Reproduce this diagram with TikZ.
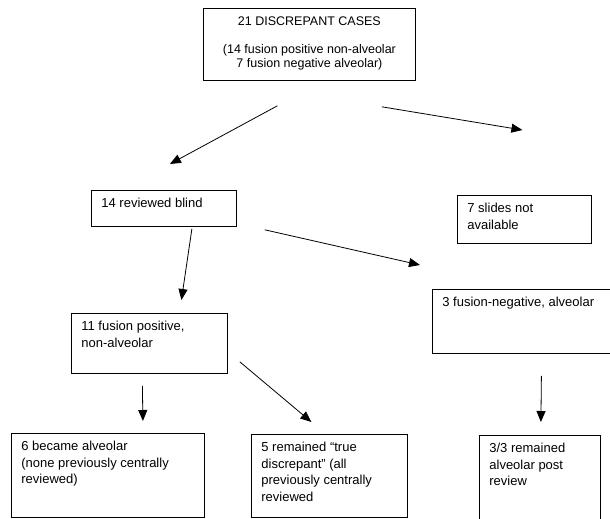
\documentclass[tikz,border=0pt]{standalone}
\usepackage{fontspec}
\setmainfont{Liberation Sans}
\usetikzlibrary{arrows.meta}

\tikzset{
  box/.style={draw, line width=0.8pt, anchor=north west, inner xsep=10pt, inner ysep=8pt,
    font=\fontsize{13}{16.5}\selectfont},
  arrow/.style={-{Triangle[length=11pt,width=9pt]}, line width=0.8pt}
}

% text set at the top of a box: width, height, text
\newcommand{\boxtext}[3]{\parbox[t][#2][t]{#1}{\raggedright #3}}

\begin{document}
\begin{tikzpicture}[x=1pt,y=-1pt]

\path[use as bounding box, fill=white] (0,0) rectangle (610,519);


% Part A: Boxes


% Top box
\node[box, font=\fontsize{12.5}{14}\selectfont] (cases) at (203,8)
  {\parbox[t][56pt][t]{192pt}{\centering 21 DISCREPANT CASES\\[14pt]
   (14 fusion positive non-alveolar\\ 7 fusion negative alveolar)}};

% Second row
\node[box] (blind)    at (91,190)  {\boxtext{125pt}{20pt}{14 reviewed blind}};
\node[box] (notavail) at (457,195) {\boxtext{114pt}{32pt}{7 slides not\\available}};

% Third row
\node[box] (posnonalv) at (71,313)  {\boxtext{136pt}{44pt}{11 fusion positive,\\non-alveolar}};
\node[box] (negalv)    at (432,289) {\boxtext{162pt}{48pt}{3 fusion-negative, alveolar}};

% Bottom row
\node[box] (became)   at (11,433)  {\boxtext{173pt}{68pt}{6 became alveolar\\(none previously centrally\\reviewed)}};
\node[box] (remained) at (251,434) {\boxtext{136pt}{67pt}{5 remained “true\\discrepant” (all\\previously centrally\\reviewed}};
\node[box] (post)     at (479,435) {\boxtext{101pt}{72pt}{3/3 remained\\alveolar post\\review}};


% Part B: Arrows


\draw[arrow] ([shift={(-32pt,-25pt)}]cases.south) -- ([shift={(6pt,26pt)}]blind.north);
\draw[arrow] ([shift={(-34pt,-26pt)}]cases.south east) -- ([shift={(-2pt,65pt)}]notavail.north);

\draw[arrow] ([shift={(28pt,-2pt)}]blind.south) -- ([shift={(32pt,13pt)}]posnonalv.north);
\draw[arrow] ([shift={(28pt,-3pt)}]blind.south east) -- ([shift={(-12pt,24pt)}]negalv.north west);

\draw[arrow] ([shift={(-7pt,-12pt)}]posnonalv.south) -- ([shift={(35pt,12pt)}]became.north);
\draw[arrow] ([shift={(12pt,12pt)}]posnonalv.south east) -- ([shift={(-18pt,12pt)}]remained.north);

\draw[arrow] ([shift={(18pt,-22pt)}]negalv.south) -- ([shift={(1pt,13pt)}]post.north);

\end{tikzpicture}
\end{document}
